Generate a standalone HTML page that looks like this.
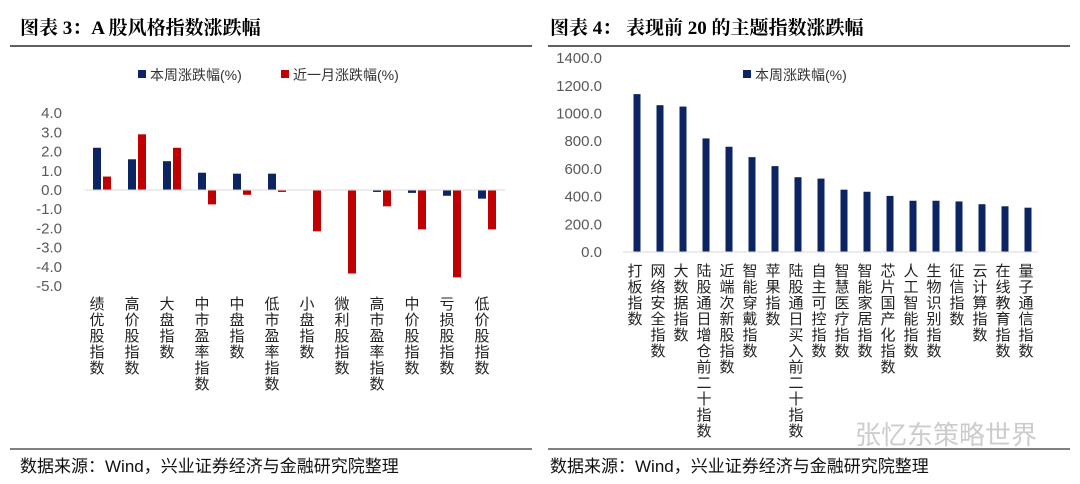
<!DOCTYPE html>
<html><head><meta charset="utf-8"><style>
html,body{margin:0;padding:0;background:#fff;}
svg{display:block;font-family:"Liberation Sans","Noto Sans CJK SC",sans-serif;}
.vt{writing-mode:vertical-rl;font-size:15px;letter-spacing:1px;fill:#222;}
</style></head><body>
<svg id="s" width="1080" height="484" viewBox="0 0 1080 484">
<text x="20" y="34" font-family="Liberation Serif, Noto Serif CJK SC, serif" font-weight="bold" font-size="19" fill="#000">图表 3：A 股风格指数涨跌幅</text>
<text x="550" y="34" font-family="Liberation Serif, Noto Serif CJK SC, serif" font-weight="bold" font-size="19" fill="#000">图表 4：  表现前 20 的主题指数涨跌幅</text>
<line x1="10" y1="46" x2="532" y2="46" stroke="#000" stroke-width="1.2"/>
<line x1="548" y1="46" x2="1070" y2="46" stroke="#000" stroke-width="1.2"/>
<line x1="10" y1="449" x2="532" y2="449" stroke="#000" stroke-width="1"/>
<line x1="548" y1="449" x2="1070" y2="449" stroke="#000" stroke-width="1"/>
<text x="20" y="472" font-size="17" fill="#111">数据来源：Wind，兴业证券经济与金融研究院整理</text>
<text x="550" y="472" font-size="17" fill="#111">数据来源：Wind，兴业证券经济与金融研究院整理</text>
<text x="855" y="444" font-size="26" fill="#ccc">张忆东策略世界</text>
<g>
<rect x="138" y="70" width="8" height="8" fill="#0d2463"/>
<text x="150" y="80" font-size="14" fill="#333">本周涨跌幅(%)</text>
<rect x="281" y="70" width="8" height="8" fill="#c00000"/>
<text x="293" y="80" font-size="14" fill="#333">近一月涨跌幅(%)</text>
</g>
<g>
<rect x="743" y="70" width="8" height="8" fill="#0d2463"/>
<text x="755" y="80" font-size="14" fill="#333">本周涨跌幅(%)</text>
</g>
<g id="c3"></g><g id="c4"></g>
</svg>
<script>
const cats3=["绩优股指数","高价股指数","大盘指数","中市盈率指数","中盘指数","低市盈率指数","小盘指数","微利股指数","高市盈率指数","中价股指数","亏损股指数","低价股指数"];
const week3=[2.2,1.6,1.5,0.9,0.85,0.85,0,0,-0.1,-0.15,-0.3,-0.45];
const month3=[0.7,2.9,2.2,-0.75,-0.25,-0.1,-2.15,-4.35,-0.85,-2.05,-4.55,-2.05];
const ticks3=[4,3,2,1,0,-1,-2,-3,-4,-5];
const cats4=["打板指数","网络安全指数","大数据指数","陆股通日增仓前二十指数","近端次新股指数","智能穿戴指数","苹果指数","陆股通日买入前二十指数","自主可控指数","智慧医疗指数","智能家居指数","芯片国产化指数","人工智能指数","生物识别指数","征信指数","云计算指数","在线教育指数","量子通信指数"];
const week4=[1140,1060,1050,820,760,685,620,540,530,450,435,405,370,370,365,345,330,320];
const ticks4=[1400,1200,1000,800,600,400,200,0];
const NS="http://www.w3.org/2000/svg";
function mk(p,tag,a){const e=document.createElementNS(NS,tag);for(const k in a)e.setAttribute(k,a[k]);p.appendChild(e);return e;}
const g3=document.getElementById('c3');
const y3=v=>190-v*19.2;
const x3=i=>102+i*35;
ticks3.forEach(t=>{const e=mk(g3,'text',{x:62,y:y3(t)+5,'text-anchor':'end','font-size':15,fill:'#595959'});e.textContent=t.toFixed(1);

});
week3.forEach((v,i)=>{const r=mk(g3,'rect',{x:x3(i)-9,y:Math.min(y3(v),y3(0)),width:8,height:Math.max(Math.abs(y3(v)-y3(0)),0.5),fill:'#0d2463'});

});
month3.forEach((v,i)=>{const r=mk(g3,'rect',{x:x3(i)+1,y:Math.min(y3(v),y3(0)),width:8,height:Math.max(Math.abs(y3(v)-y3(0)),0.5),fill:'#c00000'});

});
mk(g3,'line',{x1:85,x2:505,y1:y3(0),y2:y3(0),stroke:'#d9d9d9','stroke-width':1});
cats3.forEach((c,i)=>{const e=mk(g3,'text',{x:x3(i)-6,y:296,class:'vt'});e.textContent=c;

});
const g4=document.getElementById('c4');
const y4=v=>252-v*0.1385;
const x4=i=>637+i*23;
ticks4.forEach(t=>{const e=mk(g4,'text',{x:602,y:y4(t)+5,'text-anchor':'end','font-size':15,fill:'#595959'});e.textContent=t.toFixed(1);

});
week4.forEach((v,i)=>{const r=mk(g4,'rect',{x:x4(i)-3.5,y:y4(v),width:7,height:y4(0)-y4(v),fill:'#0d2463'});

});
mk(g4,'line',{x1:623,x2:1038,y1:y4(0),y2:y4(0),stroke:'#d9d9d9','stroke-width':1});
cats4.forEach((c,i)=>{const e=mk(g4,'text',{x:x4(i)-3,y:263,class:'vt'});e.textContent=c;

});
</script>
</body></html>
